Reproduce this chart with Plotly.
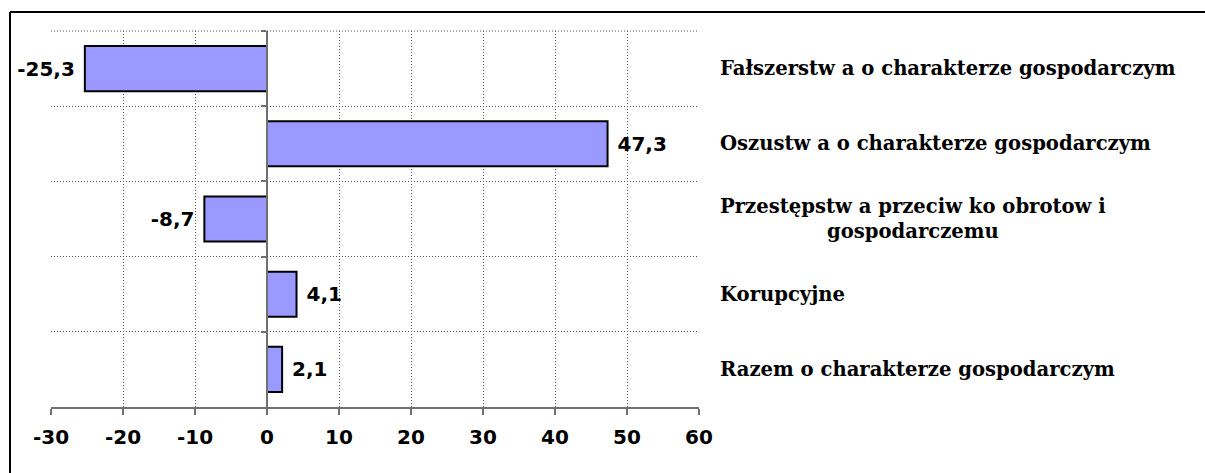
import plotly.graph_objects as go

categories = [
    "Fałszerstw a o charakterze gospodarczym",
    "Oszustw a o charakterze gospodarczym",
    "Przestępstw a przeciw ko obrotow i<br>gospodarczemu",
    "Korupcyjne",
    "Razem o charakterze gospodarczym",
]
values = [-25.3, 47.3, -8.7, 4.1, 2.1]
x_ticks = [-30, -20, -10, 0, 10, 20, 30, 40, 50, 60]

W, H = 1205, 473
L, R, T, B = 51, 506, 31, 66
pw = W - L - R
ph = H - T - B

NB = "\u00a0"
labels = []
for v in values:
    s = f"{v:.1f}".replace(".", ",")
    labels.append(s + NB if v < 0 else NB + s)

GRID_DASH = "1px,2px"
GRID_COLOR = "#505050"

fig = go.Figure()
fig.add_trace(go.Bar(
    y=categories, x=values, orientation="h",
    marker=dict(color="#9999FF", line=dict(color="#000000", width=2)),
    width=0.6,
    text=labels, textposition="outside", cliponaxis=False,
    textfont=dict(family="DejaVu Sans", size=20, color="#000000", weight="bold"),
    showlegend=False, hoverinfo="skip",
))

for c in categories:
    fig.add_annotation(
        x=(718 - L) / pw, xref="paper", y=c, yref="y",
        text=c, showarrow=False, xanchor="left", align="center",
        font=dict(family="DejaVu Serif", size=19.6, color="#000000", weight="bold"),
    )

# top boundary of plot area (dotted)
fig.add_shape(type="line", xref="paper", yref="paper", x0=0, x1=1, y0=1, y1=1,
              line=dict(color=GRID_COLOR, width=1, dash=GRID_DASH))

# outer frame (document box)
fx = (10 - L) / pw
fy = (H - B - 12) / ph
fig.add_shape(type="line", xref="paper", yref="paper", x0=fx, x1=(W + 5 - L) / pw, y0=fy, y1=fy,
              line=dict(color="#000000", width=2))
fig.add_shape(type="line", xref="paper", yref="paper", x0=fx, x1=fx, y0=fy, y1=-(B + 5) / ph,
              line=dict(color="#000000", width=2))

fig.update_layout(
    width=W, height=H,
    margin=dict(l=L, r=R, t=T, b=B),
    paper_bgcolor="#FFFFFF", plot_bgcolor="#FFFFFF",
    bargap=0.4,
    xaxis=dict(
        range=[-30, 60], tickvals=x_ticks, ticktext=[str(t) for t in x_ticks],
        showgrid=True, gridcolor=GRID_COLOR, griddash=GRID_DASH, gridwidth=1,
        zeroline=False, showline=True, linecolor="#707070", linewidth=1.5,
        ticks="outside", ticklen=6, tickcolor="#707070", tickwidth=1.5,
        ticklabelstandoff=5,
        tickfont=dict(family="DejaVu Sans", size=20, color="#000000", weight="bold"),
        fixedrange=True,
    ),
    yaxis=dict(
        type="category", autorange="reversed", tickson="boundaries",
        showgrid=True, gridcolor=GRID_COLOR, griddash=GRID_DASH, gridwidth=1,
        showticklabels=False, anchor="free", position=(267 - L) / pw,
        showline=True, linecolor="#707070", linewidth=1.5,
        ticks="outside", ticklen=5, tickcolor="#707070", tickwidth=1.5,
        zeroline=False, fixedrange=True,
    ),
)

fig.write_html(
    "out.html",
    config={"displayModeBar": False},
    post_script="document.body.style.margin='0px';document.body.style.overflow='hidden';",
)
